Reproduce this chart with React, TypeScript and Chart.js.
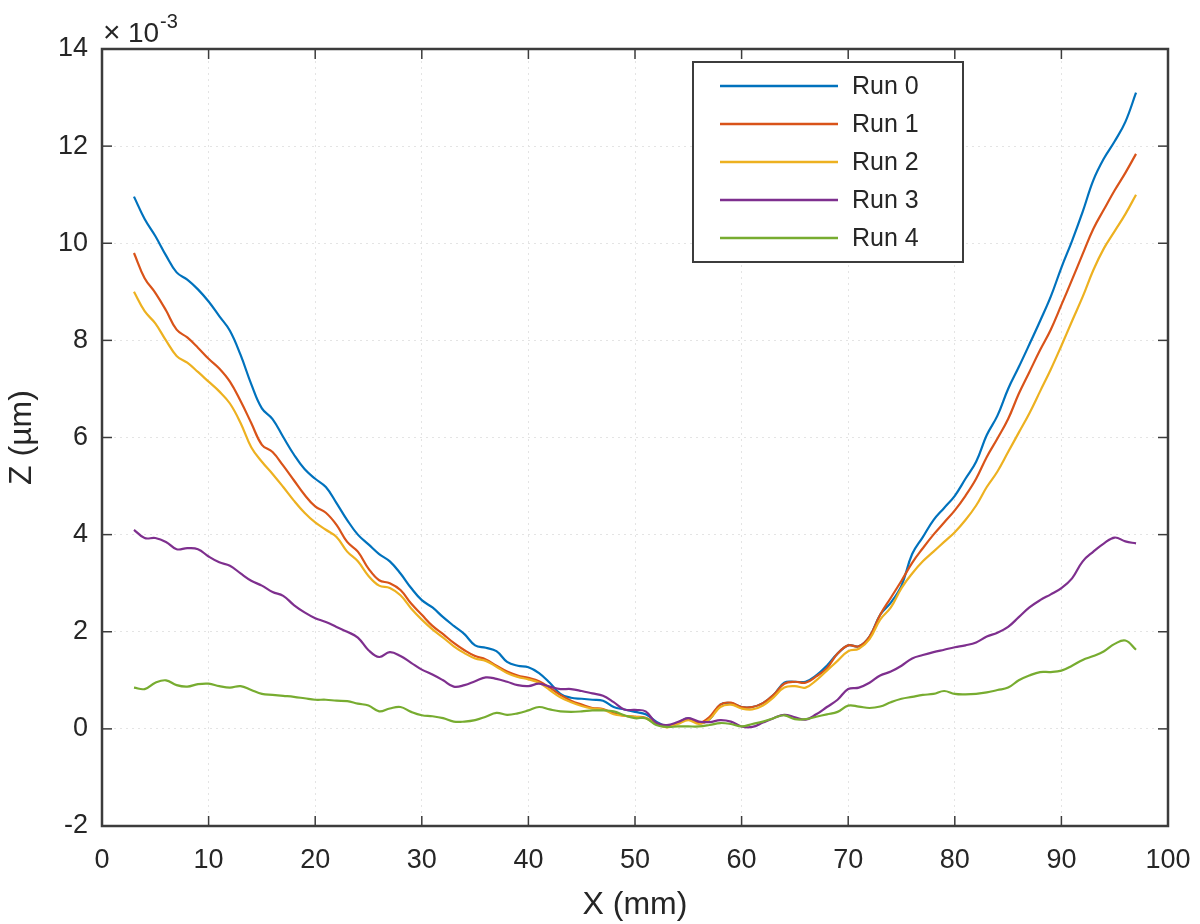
import React, { useEffect, useRef } from 'react';
import { Chart, registerables } from 'chart.js';

Chart.register(...registerables);

// x positions (mm) of the profile samples
const xPositions = [
  3, 4, 5, 6, 7, 8, 9, 10, 11, 12, 13, 14, 15, 16, 17, 18, 19, 20, 21, 22,
  23, 24, 25, 26, 27, 28, 29, 30, 31, 32, 33, 34, 35, 36, 37, 38, 39, 40, 41, 42,
  43, 44, 45, 46, 47, 48, 49, 50, 51, 52, 53, 54, 55, 56, 57, 58, 59, 60, 61, 62,
  63, 64, 65, 66, 67, 68, 69, 70, 71, 72, 73, 74, 75, 76, 77, 78, 79, 80, 81, 82,
  83, 84, 85, 86, 87, 88, 89, 90, 91, 92, 93, 94, 95, 96, 97,
];

// Z values in units of 1e-3 µm
const run0 = [
  10.96, 10.5, 10.15, 9.75, 9.4, 9.25, 9.05, 8.8, 8.5, 8.2, 7.7, 7.1, 6.6, 6.38, 6.01, 5.65, 5.35, 5.15, 4.98, 4.65,
  4.3, 4.0, 3.8, 3.6, 3.45, 3.2, 2.9, 2.65, 2.5, 2.3, 2.12, 1.95, 1.72, 1.67, 1.6, 1.38, 1.3, 1.27, 1.15, 0.95,
  0.72, 0.64, 0.62, 0.6, 0.58, 0.45, 0.4, 0.35, 0.3, 0.15, 0.05, 0.12, 0.22, 0.12, 0.2, 0.5, 0.53, 0.45, 0.45, 0.53,
  0.7, 0.95, 0.97, 0.97, 1.1, 1.3, 1.55, 1.72, 1.7, 1.9, 2.35, 2.6, 2.95, 3.6, 3.95, 4.3, 4.55, 4.8, 5.15, 5.5,
  6.05, 6.45, 7.0, 7.45, 7.92, 8.4, 8.9, 9.5, 10.05, 10.65, 11.3, 11.75, 12.1, 12.5, 13.1,
];
const run1 = [
  9.8, 9.28, 8.98, 8.62, 8.22, 8.06, 7.85, 7.62, 7.42, 7.15, 6.75, 6.3, 5.85, 5.7, 5.42, 5.12, 4.82, 4.58, 4.45, 4.2,
  3.85, 3.65, 3.3, 3.06, 3.0, 2.86, 2.58, 2.35, 2.12, 1.95, 1.77, 1.62, 1.5, 1.43, 1.3, 1.18, 1.1, 1.05, 0.98, 0.85,
  0.7, 0.58, 0.5, 0.43, 0.41, 0.32, 0.27, 0.25, 0.23, 0.12, 0.04, 0.12, 0.2, 0.12, 0.25, 0.5, 0.54, 0.45, 0.45, 0.53,
  0.7, 0.93, 0.97, 0.95, 1.08, 1.25, 1.55, 1.72, 1.7, 1.9, 2.35, 2.7, 3.05, 3.42, 3.72, 4.0, 4.25, 4.5, 4.8, 5.15,
  5.6, 5.98, 6.38, 6.9, 7.35, 7.8, 8.22, 8.73, 9.25, 9.78, 10.3, 10.7, 11.09, 11.45, 11.84,
];
const run2 = [
  9.0, 8.6, 8.35, 8.0, 7.68, 7.54, 7.35, 7.15, 6.95, 6.7, 6.3, 5.8, 5.5, 5.25, 4.98, 4.7, 4.45, 4.25, 4.1, 3.95,
  3.65, 3.45, 3.15, 2.95, 2.9, 2.75, 2.48, 2.25, 2.05, 1.88, 1.7, 1.56, 1.45, 1.4, 1.28, 1.15, 1.07, 1.02, 0.95, 0.8,
  0.65, 0.55, 0.47, 0.42, 0.4, 0.3, 0.27, 0.25, 0.22, 0.1, 0.03, 0.1, 0.18, 0.1, 0.2, 0.45, 0.5, 0.42, 0.4, 0.48,
  0.65, 0.85, 0.88, 0.85, 1.0, 1.2, 1.4, 1.6, 1.65, 1.85, 2.25, 2.5, 2.9, 3.2, 3.45, 3.65, 3.85, 4.05, 4.3, 4.6,
  4.98, 5.3, 5.7, 6.1, 6.5, 6.95, 7.4, 7.89, 8.4, 8.9, 9.45, 9.9, 10.25, 10.6, 11.0,
];
const run3 = [
  4.1, 3.93, 3.93, 3.85, 3.7, 3.72, 3.7, 3.55, 3.43, 3.36, 3.2, 3.05, 2.95, 2.82, 2.74, 2.55, 2.4, 2.28, 2.2, 2.1,
  2.0, 1.88, 1.62, 1.48, 1.58, 1.5, 1.36, 1.22, 1.12, 1.0, 0.87, 0.9, 0.98, 1.06, 1.03, 0.97, 0.9, 0.88, 0.93, 0.87,
  0.82, 0.82, 0.78, 0.73, 0.68, 0.55, 0.4, 0.39, 0.36, 0.12, 0.08, 0.14, 0.22, 0.15, 0.14, 0.18, 0.15, 0.05, 0.04, 0.13,
  0.22, 0.29, 0.24, 0.19, 0.3, 0.45, 0.6, 0.82, 0.85, 0.95, 1.1, 1.18, 1.3, 1.45, 1.52, 1.58, 1.63, 1.68, 1.72, 1.78,
  1.9, 1.98, 2.1, 2.3, 2.5, 2.65, 2.77, 2.9, 3.1, 3.45, 3.65, 3.82, 3.94, 3.86, 3.82,
];
const run4 = [
  0.85, 0.82, 0.95, 1.0, 0.9, 0.87, 0.92, 0.93, 0.88, 0.85, 0.88, 0.8, 0.72, 0.7, 0.68, 0.66, 0.63, 0.6, 0.6, 0.58,
  0.57, 0.52, 0.48, 0.36, 0.42, 0.45, 0.35, 0.28, 0.26, 0.22, 0.15, 0.15, 0.18, 0.25, 0.33, 0.29, 0.32, 0.38, 0.45, 0.4,
  0.36, 0.35, 0.36, 0.38, 0.38, 0.36, 0.28, 0.22, 0.22, 0.08, 0.04, 0.05, 0.05, 0.05, 0.08, 0.12, 0.1, 0.05, 0.1, 0.15,
  0.22, 0.28, 0.2, 0.2, 0.25, 0.3, 0.35, 0.48, 0.46, 0.43, 0.46, 0.55, 0.62, 0.66, 0.7, 0.72, 0.78, 0.72, 0.71, 0.72,
  0.75, 0.8, 0.85, 1.0, 1.1, 1.17, 1.17, 1.2, 1.3, 1.42, 1.5, 1.6, 1.75, 1.82, 1.63,
];

const seriesNames = ['Run 0', 'Run 1', 'Run 2', 'Run 3', 'Run 4'];
const seriesValues = [run0, run1, run2, run3, run4];
const seriesColors = ['#0072BD', '#D95319', '#EDB120', '#7E2F8E', '#77AC30'];

const xTicks = [0, 10, 20, 30, 40, 50, 60, 70, 80, 90, 100];
const yTicks = [-2, 0, 2, 4, 6, 8, 10, 12, 14];

const FONT = '"Liberation Sans", Arial, sans-serif';
const TEXT = '#262626';
const AXIS = '#3c3c3c';

// box, inward ticks, exponent label and legend, like a MATLAB axes
const framePlugin = {
  id: 'frame',
  afterDatasetsDraw(chart: any) {
    const { ctx, chartArea: a, scales } = chart;
    ctx.save();
    ctx.strokeStyle = AXIS;
    ctx.lineWidth = 1.5;
    const len = 10;
    const seg = (x1: number, y1: number, x2: number, y2: number) => {
      ctx.beginPath();
      ctx.moveTo(x1, y1);
      ctx.lineTo(x2, y2);
      ctx.stroke();
    };
    xTicks.forEach((v) => {
      const px = scales.x.getPixelForValue(v);
      seg(px, a.bottom, px, a.bottom - len);
      seg(px, a.top, px, a.top + len);
    });
    yTicks.forEach((v) => {
      const py = scales.y.getPixelForValue(v);
      seg(a.left, py, a.left + len, py);
      seg(a.right, py, a.right - len, py);
    });
    ctx.lineWidth = 2.5;
    ctx.strokeRect(a.left, a.top, a.right - a.left, a.bottom - a.top);

    // exponent
    ctx.fillStyle = TEXT;
    ctx.textBaseline = 'alphabetic';
    ctx.textAlign = 'left';
    ctx.font = `30px ${FONT}`;
    ctx.fillText('\u00d7', a.left + 1, a.top - 7);
    ctx.font = `28px ${FONT}`;
    ctx.fillText('10', a.left + 26, a.top - 7);
    ctx.font = `20px ${FONT}`;
    ctx.fillText('-3', a.left + 58, a.top - 21);

    // legend
    const box = { x: 693, y: 62, w: 270, h: 200 };
    ctx.fillStyle = '#ffffff';
    ctx.fillRect(box.x, box.y, box.w, box.h);
    ctx.strokeStyle = AXIS;
    ctx.lineWidth = 2;
    ctx.strokeRect(box.x, box.y, box.w, box.h);
    ctx.font = `25px ${FONT}`;
    ctx.textBaseline = 'middle';
    chart.data.datasets.forEach((ds: any, i: number) => {
      const y = box.y + 24 + i * 38;
      ctx.strokeStyle = ds.borderColor;
      ctx.lineWidth = 2.5;
      seg(box.x + 27, y, box.x + 145, y);
      ctx.fillStyle = TEXT;
      ctx.fillText(ds.label, box.x + 159, y + 1);
    });
    ctx.restore();
  },
};

export default function App() {
  const canvasRef = useRef<HTMLCanvasElement>(null);

  useEffect(() => {
    document.body.style.margin = '0';
    if (!canvasRef.current) return;
    const chart = new Chart(canvasRef.current, {
      type: 'line',
      data: {
        datasets: seriesNames.map((name, i) => ({
          label: name,
          data: xPositions.map((x, j) => ({ x, y: seriesValues[i][j] })),
          borderColor: seriesColors[i],
          backgroundColor: seriesColors[i],
          borderWidth: 2.2,
          pointRadius: 0,
          tension: 0.4,
          fill: false,
          order: seriesNames.length - 1 - i,
        })),
      },
      options: {
        responsive: true,
        maintainAspectRatio: false,
        animation: false,
        layout: { padding: { left: 0, top: 49, right: 32, bottom: 0 } },
        plugins: { legend: { display: false }, tooltip: { enabled: false } },
        scales: {
          x: {
            type: 'linear',
            min: 0,
            max: 100,
            afterBuildTicks: (s: any) => {
              s.ticks = xTicks.map((value) => ({ value }));
            },
            afterFit: (s: any) => {
              s.height = 98;
              s.paddingLeft = 0;
              s.paddingRight = 0;
            },
            grid: { color: '#e4e4e4', lineWidth: 1, drawTicks: false },
            border: { display: false, dash: [2, 4] },
            ticks: { padding: 18, color: TEXT, font: { family: FONT, size: 27 }, maxRotation: 0 },
            title: {
              display: true,
              text: 'X (mm)',
              color: TEXT,
              font: { family: FONT, size: 32 },
              padding: { top: 0, bottom: 0 },
            },
          },
          y: {
            type: 'linear',
            min: -2,
            max: 14,
            afterBuildTicks: (s: any) => {
              s.ticks = yTicks.map((value) => ({ value }));
            },
            afterFit: (s: any) => {
              s.width = 102;
              s.paddingTop = 0;
              s.paddingBottom = 0;
            },
            grid: { color: '#e4e4e4', lineWidth: 1, drawTicks: false },
            border: { display: false, dash: [2, 4] },
            ticks: { padding: 14, color: TEXT, font: { family: FONT, size: 27 } },
            title: {
              display: true,
              text: 'Z (\u00b5m)',
              color: TEXT,
              font: { family: FONT, size: 32 },
              padding: { top: 3, bottom: 0 },
            },
          },
        },
      },
      plugins: [framePlugin],
    });
    return () => chart.destroy();
  }, []);

  return (
    <div style={{ position: 'relative', width: 1200, height: 924, background: '#ffffff' }}>
      <canvas ref={canvasRef} />
    </div>
  );
}
